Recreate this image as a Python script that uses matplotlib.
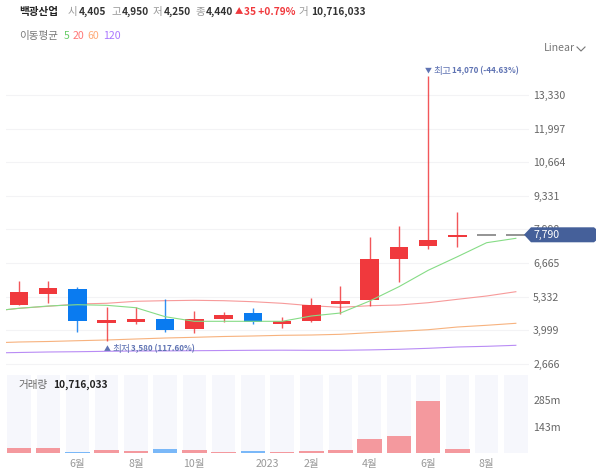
import matplotlib
matplotlib.use("Agg")
import matplotlib.pyplot as plt
from matplotlib.patches import Polygon
from matplotlib.lines import Line2D

plt.rcParams['font.family'] = ['Noto Sans CJK KR', 'DejaVu Sans']

W = 600
H = 473

# monthly candles (last two are flat placeholders at the last close)
opens  = [5004, 5440, 5650, 4303, 4342, 4449, 4041, 4449, 4699, 4263, 4382, 5032, 5214, 6827, 7342, 7687, 7790, 7790]
closes = [5507, 5666, 4382, 4422, 4461, 4002, 4437, 4620, 4319, 4382, 4992, 5175, 6827, 7315, 7580, 7790, 7790, 7790]
highs  = [5967, 5967, 5706, 4913, 4937, 5230, 4778, 4727, 4885, 4529, 5270, 5769, 7699, 8135, 14070, 8678, 7790, 7790]
lows   = [5004, 5095, 3946, 3580, 4251, 3922, 3895, 4342, 4263, 4093, 4342, 4647, 4976, 5928, 7235, 7315, 7790, 7790]

# volume in millions
volumes = [29, 29, 5, 14, 9, 20, 14, 5, 9, 5, 9, 14, 74, 90, 281, 20, 0, 0]

# moving averages, first value is the month before the visible range
ma5   = [4750, 4873, 4965, 5016, 4992, 4897, 4541, 4358, 4358, 4358, 4358, 4568, 4687, 5163, 5729, 6379, 6918, 7473, 7647]
ma20  = [4750, 4873, 4953, 5044, 5072, 5151, 5175, 5190, 5175, 5135, 5072, 4976, 4913, 4976, 5004, 5095, 5230, 5361, 5531]
ma60  = [3500, 3538, 3558, 3589, 3617, 3657, 3696, 3724, 3756, 3776, 3803, 3815, 3843, 3906, 3962, 4025, 4132, 4200, 4279]
ma120 = [3102, 3122, 3142, 3153, 3169, 3181, 3185, 3193, 3201, 3209, 3213, 3209, 3209, 3225, 3249, 3288, 3340, 3367, 3407]

price_ticks = [2666, 3999, 5332, 6665, 7998, 9331, 10664, 11997, 13330]
vol_ticks = [143, 285]
vol_tick_labels = ['143m', '285m']
month_pos = [2, 4, 6, 8.5, 10, 12, 14, 16]
month_labels = ['6월', '8월', '10월', '2023', '2월', '4월', '6월', '8월']

RED = '#f0393d'
BLUE = '#0a7bf0'
GRAY = '#777777'
LABEL = '#666666'
NOTE = '#5f73b3'


def px_text(x, y, s, **kw):
    kw.setdefault('fontsize', 7.6)
    kw.setdefault('va', 'center')
    fig.text(x / W, 1 - y / H, s, **kw)


fig = plt.figure(figsize=(W / 100, H / 100), dpi=100)
left = 5.7 / W
width = (529 - 5.7) / W
ax = fig.add_axes([left, 1 - 372 / H, width, (372 - 60) / H])
axv = fig.add_axes([left, 1 - 453 / H, width, (453 - 374.7) / H])

idx = list(range(len(opens)))
colors = []
for o, c in zip(opens, closes):
    if o == c:
        colors.append(GRAY)
    elif c > o:
        colors.append(RED)
    else:
        colors.append(BLUE)

# price panel
for i in idx:
    if highs[i] == lows[i]:
        ax.hlines(closes[i], i - 0.32, i + 0.32, color=GRAY, lw=1.1, zorder=3)
        continue
    ax.vlines(i, lows[i], highs[i], color=colors[i], lw=1.0, alpha=0.85, zorder=3)
    ax.bar(i, abs(closes[i] - opens[i]), bottom=min(opens[i], closes[i]), width=0.633,
           color=colors[i], linewidth=0, zorder=3)

ma_x = [-1] + idx
ax.plot(ma_x, ma120, color='#b98cf5', lw=0.8, zorder=2)
ax.plot(ma_x, ma60, color='#f7b27e', lw=0.8, zorder=2)
ax.plot(ma_x, ma20, color='#f79a9a', lw=0.8, zorder=2)
ax.plot(ma_x, ma5, color='#86dc86', lw=0.8, zorder=4)

ax.set_xlim(-0.455, 17.45)
ax.set_ylim(2349, 14714)
ax.yaxis.tick_right()
ax.set_yticks(price_ticks)
ax.set_yticklabels([f'{v:,}' for v in price_ticks], fontsize=7.6, color=LABEL)
ax.tick_params(axis='y', length=0, pad=3)
ax.set_xticks([])
ax.grid(axis='y', color='#f3f3f5', lw=0.8)
ax.set_axisbelow(True)
for s in ax.spines.values():
    s.set_visible(False)
ax.patch.set_visible(False)

# volume panel
axv.bar(idx, [423] * len(idx), width=0.8, color='#f6f7fc', linewidth=0, zorder=1)
vol_colors = ['#f4999e' if c == RED else '#7ab8f8' for c in colors]
axv.bar(idx, volumes, width=0.84, color=vol_colors, linewidth=0, zorder=2)
axv.set_xlim(-0.455, 17.45)
axv.set_ylim(0, 423)
axv.yaxis.tick_right()
axv.set_yticks(vol_ticks)
axv.set_yticklabels(vol_tick_labels, fontsize=7.6, color=LABEL)
axv.set_xticks(month_pos)
axv.set_xticklabels(month_labels, fontsize=7.6, color='#999999')
axv.tick_params(axis='y', length=0, pad=3)
axv.tick_params(axis='x', length=0, pad=4)
for s in axv.spines.values():
    s.set_visible(False)
axv.patch.set_visible(False)

# header
px_text(19, 12, '백광산업', fontweight='bold', color='#222222')
for x, s in [(68, '시'), (111, '고'), (153, '저'), (195, '종'), (299, '거')]:
    px_text(x, 12, s, color='#999999')
for x, s in [(79, '4,405'), (122, '4,950'), (164, '4,250'), (206, '4,440'), (311, '10,716,033')]:
    px_text(x, 12, s, fontweight='bold', color='#333333', fontsize=7.3)
px_text(235, 12, '▲', color=RED, fontsize=6)
px_text(244, 12, '35 +0.79%', fontweight='bold', color=RED, fontsize=7.3)

px_text(19, 36, '이동평균', color='#777777')
px_text(64, 36, '5', color='#66cc66')
px_text(73, 36, '20', color='#ff7777')
px_text(87, 36, '60', color='#ffaa77')
px_text(103, 36, '120', color='#aa77ff')

px_text(544, 48, 'Linear', color='#777777')
fig.add_artist(Line2D([577 / W, 581 / W, 585 / W], [1 - 47 / H, 1 - 51 / H, 1 - 47 / H],
                      color='#777777', lw=0.8))

# high / low notes
px_text(425, 71, '▼', color=NOTE, fontsize=5)
px_text(433, 71, '최고', color=NOTE, fontsize=7)
px_text(452, 71, '14,070 (-44.63%)', color=NOTE, fontweight='bold', fontsize=5.8)
px_text(104, 349, '▲', color=NOTE, fontsize=5)
px_text(112, 349, '최저', color=NOTE, fontsize=7)
px_text(131, 349, '3,580 (117.60%)', color=NOTE, fontweight='bold', fontsize=5.8)

px_text(19, 385, '거래량', color='#666666')
px_text(53, 385, '10,716,033', fontweight='bold', color='#222222', fontsize=7.3)

# last price tag
tag = [(524, 234.7), (531, 227.3), (594, 227.3), (596, 229), (596, 240.6), (594, 242.3), (531, 242.3)]
fig.add_artist(Polygon([(x / W, 1 - y / H) for x, y in tag], closed=True, facecolor='#45609a',
                       edgecolor='none', transform=fig.transFigure, zorder=5))
fig.text(534 / W, 1 - 234.7 / H, '7,790', color='white', fontsize=7.6, va='center', zorder=6)

fig.savefig('out.png', dpi=100)
